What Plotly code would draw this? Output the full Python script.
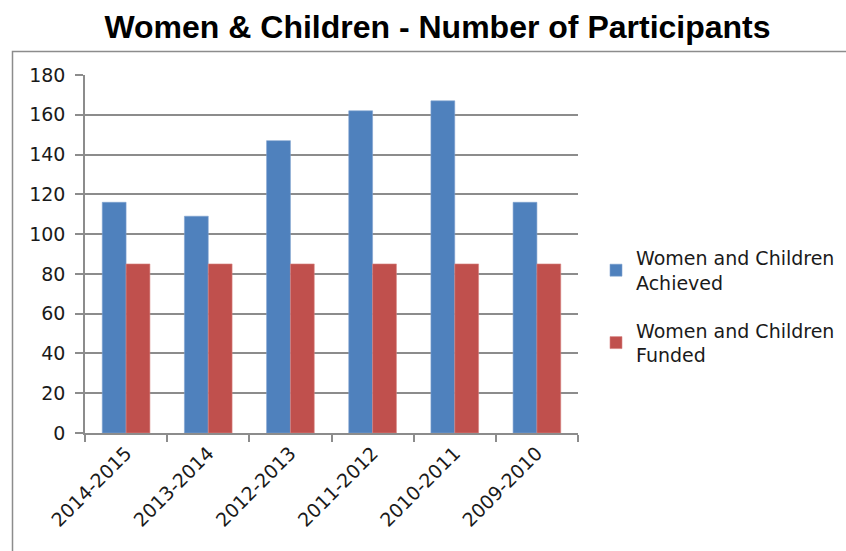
import plotly.graph_objects as go

categories = ["2014-2015", "2013-2014", "2012-2013", "2011-2012", "2010-2011", "2009-2010"]
achieved = [116, 109, 147, 162, 167, 116]
funded = [85, 85, 85, 85, 85, 85]
series_names = ["Women and Children<br>Achieved", "Women and Children<br>Funded"]
y_ticks = [0, 20, 40, 60, 80, 100, 120, 140, 160, 180]

W, H = 846, 551
ML, MR, MT, MB = 85, 268, 75, 118
pw = W - ML - MR
ph = H - MT - MB

def px_to_paper_x(px):
    return (px - ML) / pw

def px_to_paper_y(py):
    return (H - MB - py) / ph

tick_font = dict(family="DejaVu Sans", size=19, color="#1a1a1a")

fig = go.Figure()
fig.add_trace(go.Bar(x=categories, y=achieved, name=series_names[0], legendgroup="a",
                     marker=dict(color="#4F81BD", line=dict(color="#7FA3D0", width=0.6))))
fig.add_trace(go.Bar(x=categories, y=funded, name=series_names[1], legendgroup="b",
                     marker=dict(color="#C0504D", line=dict(color="#D98583", width=0.6))))

fig.update_layout(
    width=W, height=H,
    margin=dict(l=ML, r=MR, t=MT, b=MB, autoexpand=False),
    paper_bgcolor="white", plot_bgcolor="white",
    barmode="group", bargap=0.42, bargroupgap=0,
    title=dict(text="<b>Women & Children - Number of Participants</b>",
               font=dict(family="Liberation Sans", size=32, color="black"),
               x=437.5 / W, xanchor="center", xref="container", y=1 - 27 / H, yanchor="middle", yref="container"),
    legend=dict(x=px_to_paper_x(596), y=px_to_paper_y(239), xanchor="left", yanchor="top",
                font=dict(family="DejaVu Sans", size=19, color="#1a1a1a"),
                tracegroupgap=20, bgcolor="rgba(0,0,0,0)"),
    showlegend=True,
    xaxis=dict(type="category", tickfont=tick_font, tickangle=-45,
               showline=True, linecolor="#8c8c8c", linewidth=1.5,
               ticks="outside", tickson="boundaries", ticklen=7, tickcolor="#8c8c8c", tickwidth=1.5,
               showgrid=False, fixedrange=True),
    yaxis=dict(range=[0, 180], tickvals=y_ticks, tickfont=tick_font,
               showline=True, linecolor="#8c8c8c", linewidth=1.5,
               ticks="outside", ticklen=8, tickcolor="#8c8c8c", tickwidth=1.5,
               showgrid=True, gridcolor="#8c8c8c", gridwidth=1.5, zeroline=False,
               ticklabelstandoff=6),
)

fig.add_shape(type="rect", xref="paper", yref="paper",
              x0=px_to_paper_x(12.5), x1=px_to_paper_x(900),
              y0=px_to_paper_y(620), y1=px_to_paper_y(51.5),
              line=dict(color="#8c8c8c", width=1.5), fillcolor="rgba(0,0,0,0)", layer="below")

fig.write_html("out.html")
